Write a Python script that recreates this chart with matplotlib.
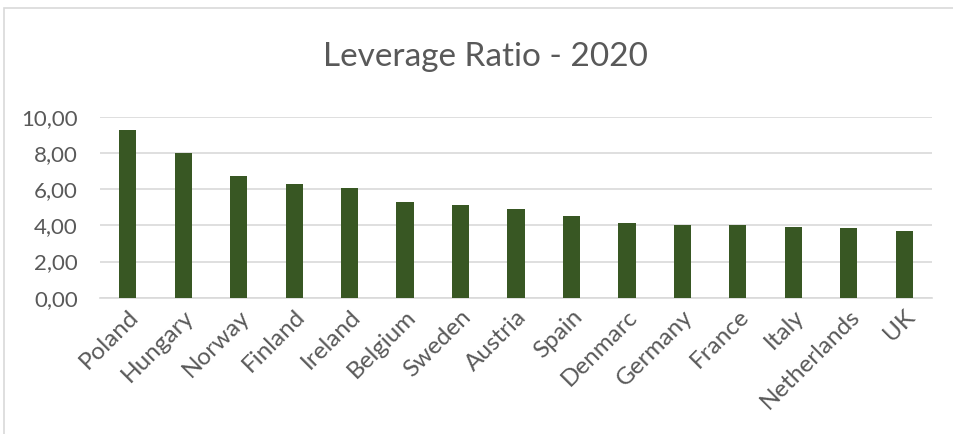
import matplotlib
matplotlib.use("Agg")
import matplotlib.pyplot as plt
from matplotlib.patches import Rectangle
from matplotlib.ticker import FuncFormatter

countries = ["Poland", "Hungary", "Norway", "Finland", "Ireland", "Belgium", "Sweden",
             "Austria", "Spain", "Denmarc", "Germany", "France", "Italy", "Netherlands", "UK"]
leverage = [9.27, 8.00, 6.72, 6.30, 6.04, 5.27, 5.12, 4.88, 4.50, 4.14, 4.03, 4.00, 3.90, 3.86, 3.70]
yticks = [0, 2, 4, 6, 8, 10]

grey = "#595959"
plt.rcParams["font.family"] = ["Lato", "DejaVu Sans"]

fig = plt.figure(figsize=(9.54, 4.34), dpi=100)
# chart frame like the Excel chart area
fig.patches.append(Rectangle((4 / 954, -0.1), 1.2, 1 - 8 / 434 + 0.1, transform=fig.transFigure,
                             fill=False, edgecolor="#D9D9D9", linewidth=1.2))

ax = fig.add_axes([100 / 954, 1 - 297.7 / 434, 832 / 954, 181 / 434])
x = range(len(countries))
ax.bar(x, leverage, width=0.31, color="#385723", zorder=3)

ax.set_xlim(-0.5, len(countries) - 0.5)
ax.set_ylim(0, 10)
ax.set_yticks(yticks)
ax.yaxis.set_major_formatter(FuncFormatter(lambda v, p: f"{v:.2f}".replace(".", ",")))
ax.grid(axis="y", color="#D9D9D9", linewidth=1.2, zorder=0)
for s in ["top", "right", "left"]:
    ax.spines[s].set_visible(False)
ax.spines["bottom"].set_color("#D9D9D9")
ax.spines["bottom"].set_linewidth(1.2)
ax.tick_params(length=0, colors=grey)
ax.tick_params(axis="y", pad=16, labelsize=16)
ax.tick_params(axis="x", pad=6, labelsize=17.5)
ax.set_xticks(list(x))
ax.set_xticklabels(countries, rotation=45, ha="right", rotation_mode="anchor")

fig.text(485 / 954, 1 - 57 / 434, "Leverage Ratio - 2020", ha="center", va="center",
         fontsize=24, color=grey)

fig.savefig("out.png", dpi=100)
